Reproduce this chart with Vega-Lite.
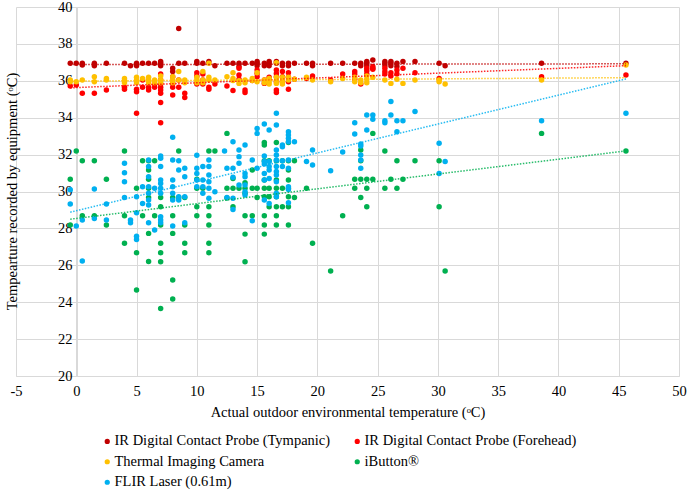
{
"$schema": "https://vega.github.io/schema/vega-lite/v6.json",
"autosize": {"type": "none"},
"width": 663,
"height": 369,
"padding": {"left": 16, "top": 7, "right": 9, "bottom": 115},
"config": {"font": "Liberation Serif", "view": {"stroke": null}, "axis": {"labelOverlap": false, "labelSeparation": 0}},
"datasets": {
"trend": [
{"s":"T","x":-0.5,"y":36.88},{"s":"T","x":45.6,"y":36.92},
{"s":"F","x":-0.5,"y":35.62},{"s":"F","x":45.6,"y":36.82},
{"s":"C","x":-0.5,"y":35.98},{"s":"C","x":45.6,"y":36.17},
{"s":"B","x":-0.5,"y":28.5},{"s":"B","x":45.6,"y":32.2},
{"s":"L","x":-0.5,"y":28.88},{"s":"L","x":45.6,"y":36.1}
],
"pts": [
{"s":"T","x":-0.5,"y":36.95},{"s":"T","x":0,"y":36.95},{"s":"T","x":0.5,"y":36.95},{"s":"T","x":0.5,"y":36.86},{"s":"T","x":1.5,"y":36.95},{"s":"T","x":1.5,"y":36.82},{"s":"T","x":2.5,"y":36.95},{"s":"T","x":4,"y":36.95},{"s":"T","x":4.5,"y":36.82},{"s":"T","x":5,"y":36.95},{"s":"T","x":5,"y":36.82},{"s":"T","x":5.5,"y":36.95},{"s":"T","x":6,"y":36.95},{"s":"T","x":6.5,"y":36.95},{"s":"T","x":7,"y":37.04},{"s":"T","x":7,"y":36.95},{"s":"T","x":7,"y":36.82},{"s":"T","x":8,"y":36.68},{"s":"T","x":8,"y":36.5},{"s":"T","x":8.5,"y":36.95},{"s":"T","x":8.5,"y":38.84},{"s":"T","x":9,"y":36.95},{"s":"T","x":10,"y":37.04},{"s":"T","x":10,"y":36.95},{"s":"T","x":10.5,"y":36.95},{"s":"T","x":11,"y":37.04},{"s":"T","x":11.5,"y":36.82},{"s":"T","x":12.5,"y":36.95},{"s":"T","x":13,"y":36.95},{"s":"T","x":13.5,"y":36.95},{"s":"T","x":13.5,"y":36.77},{"s":"T","x":14,"y":36.95},{"s":"T","x":14.6,"y":36.95},{"s":"T","x":15,"y":37.04},{"s":"T","x":15,"y":36.95},{"s":"T","x":15,"y":36.82},{"s":"T","x":15.6,"y":36.95},{"s":"T","x":15.6,"y":36.82},{"s":"T","x":16,"y":37.04},{"s":"T","x":16,"y":36.95},{"s":"T","x":16,"y":36.82},{"s":"T","x":16.6,"y":37.04},{"s":"T","x":16.6,"y":36.95},{"s":"T","x":17.1,"y":36.95},{"s":"T","x":17.1,"y":36.82},{"s":"T","x":17.6,"y":36.95},{"s":"T","x":17.6,"y":36.82},{"s":"T","x":18.1,"y":36.95},{"s":"T","x":19.1,"y":36.95},{"s":"T","x":19.6,"y":36.95},{"s":"T","x":19.6,"y":36.82},{"s":"T","x":21.1,"y":36.95},{"s":"T","x":22.1,"y":36.95},{"s":"T","x":23.1,"y":36.95},{"s":"T","x":23.6,"y":36.95},{"s":"T","x":23.6,"y":36.82},{"s":"T","x":24.1,"y":37.04},{"s":"T","x":24.1,"y":36.95},{"s":"T","x":24.1,"y":36.82},{"s":"T","x":24.6,"y":37.13},{"s":"T","x":24.6,"y":36.68},{"s":"T","x":25.6,"y":37.04},{"s":"T","x":25.6,"y":36.95},{"s":"T","x":25.6,"y":36.82},{"s":"T","x":26.1,"y":37.04},{"s":"T","x":26.1,"y":36.95},{"s":"T","x":26.1,"y":36.82},{"s":"T","x":26.6,"y":36.95},{"s":"T","x":26.6,"y":36.77},{"s":"T","x":27.1,"y":37.04},{"s":"T","x":28.1,"y":37.04},{"s":"T","x":30.1,"y":36.95},{"s":"T","x":30.6,"y":36.82},{"s":"T","x":38.6,"y":36.95},{"s":"T","x":45.6,"y":36.95},
{"s":"F","x":-0.5,"y":35.72},{"s":"F","x":0,"y":35.77},{"s":"F","x":0.5,"y":35.32},{"s":"F","x":1.5,"y":35.32},{"s":"F","x":2.5,"y":35.5},{"s":"F","x":4,"y":35.65},{"s":"F","x":4,"y":35.54},{"s":"F","x":5,"y":35.54},{"s":"F","x":5,"y":35.41},{"s":"F","x":5,"y":34.24},{"s":"F","x":5.5,"y":36.04},{"s":"F","x":5.5,"y":35.65},{"s":"F","x":6,"y":35.65},{"s":"F","x":6,"y":35.5},{"s":"F","x":6.5,"y":35.83},{"s":"F","x":6.5,"y":35.65},{"s":"F","x":7,"y":36.37},{"s":"F","x":7,"y":36.04},{"s":"F","x":7,"y":35.83},{"s":"F","x":7,"y":35.65},{"s":"F","x":7,"y":35.5},{"s":"F","x":7,"y":35.32},{"s":"F","x":7,"y":34.83},{"s":"F","x":7,"y":33.73},{"s":"F","x":8,"y":36.22},{"s":"F","x":8,"y":35.86},{"s":"F","x":8,"y":35.65},{"s":"F","x":8,"y":35.23},{"s":"F","x":8.5,"y":36.04},{"s":"F","x":8.5,"y":35.65},{"s":"F","x":9,"y":35.32},{"s":"F","x":9,"y":35.1},{"s":"F","x":10,"y":36.44},{"s":"F","x":10,"y":36.26},{"s":"F","x":10,"y":35.83},{"s":"F","x":10.5,"y":36.37},{"s":"F","x":10.5,"y":36.04},{"s":"F","x":10.5,"y":35.83},{"s":"F","x":11,"y":35.65},{"s":"F","x":11,"y":35.54},{"s":"F","x":11.5,"y":35.83},{"s":"F","x":12.5,"y":35.72},{"s":"F","x":13,"y":35.47},{"s":"F","x":13.5,"y":36.68},{"s":"F","x":13.5,"y":36.31},{"s":"F","x":13.5,"y":36.08},{"s":"F","x":14,"y":35.5},{"s":"F","x":14,"y":35.36},{"s":"F","x":14.6,"y":36.01},{"s":"F","x":15,"y":36.59},{"s":"F","x":15,"y":36.4},{"s":"F","x":15,"y":36.22},{"s":"F","x":15.6,"y":36.04},{"s":"F","x":15.6,"y":35.86},{"s":"F","x":16,"y":36.19},{"s":"F","x":16.6,"y":36.59},{"s":"F","x":16.6,"y":36.4},{"s":"F","x":16.6,"y":36.22},{"s":"F","x":16.6,"y":35.95},{"s":"F","x":16.6,"y":35.5},{"s":"F","x":16.6,"y":35.36},{"s":"F","x":17.1,"y":36.5},{"s":"F","x":17.1,"y":36.22},{"s":"F","x":17.1,"y":35.95},{"s":"F","x":17.6,"y":36.44},{"s":"F","x":17.6,"y":36.19},{"s":"F","x":17.6,"y":35.95},{"s":"F","x":17.6,"y":35.54},{"s":"F","x":18.1,"y":36.08},{"s":"F","x":19.1,"y":36.13},{"s":"F","x":19.6,"y":36.26},{"s":"F","x":19.6,"y":36.13},{"s":"F","x":21.1,"y":36.04},{"s":"F","x":22.1,"y":36.37},{"s":"F","x":23.1,"y":36.5},{"s":"F","x":23.1,"y":36.37},{"s":"F","x":23.1,"y":36.08},{"s":"F","x":23.6,"y":35.83},{"s":"F","x":24.1,"y":36.68},{"s":"F","x":24.1,"y":36.55},{"s":"F","x":24.1,"y":36.37},{"s":"F","x":24.6,"y":36.77},{"s":"F","x":24.6,"y":36.62},{"s":"F","x":25.6,"y":36.68},{"s":"F","x":25.6,"y":36.5},{"s":"F","x":25.6,"y":36.37},{"s":"F","x":26.1,"y":36.44},{"s":"F","x":26.1,"y":36.26},{"s":"F","x":26.6,"y":36.59},{"s":"F","x":26.6,"y":36.37},{"s":"F","x":27.1,"y":36.68},{"s":"F","x":28.1,"y":36.44},{"s":"F","x":30.1,"y":36.13},{"s":"F","x":38.6,"y":36.22},{"s":"F","x":45.6,"y":36.31},
{"s":"C","x":-0.5,"y":36.04},{"s":"C","x":-0.5,"y":35.95},{"s":"C","x":0,"y":35.95},{"s":"C","x":0.5,"y":36.04},{"s":"C","x":1.5,"y":36.22},{"s":"C","x":1.5,"y":35.95},{"s":"C","x":2.5,"y":36.13},{"s":"C","x":2.5,"y":36.04},{"s":"C","x":4,"y":36.13},{"s":"C","x":4,"y":36.01},{"s":"C","x":4,"y":35.9},{"s":"C","x":5,"y":36.19},{"s":"C","x":5,"y":36.04},{"s":"C","x":5,"y":35.9},{"s":"C","x":5.5,"y":36.13},{"s":"C","x":6,"y":36.19},{"s":"C","x":6,"y":36.04},{"s":"C","x":6,"y":35.9},{"s":"C","x":6.5,"y":36.04},{"s":"C","x":6.5,"y":35.9},{"s":"C","x":7,"y":36.26},{"s":"C","x":7,"y":36.04},{"s":"C","x":7,"y":35.9},{"s":"C","x":8,"y":36.22},{"s":"C","x":8,"y":36.04},{"s":"C","x":8,"y":35.9},{"s":"C","x":8.5,"y":36.5},{"s":"C","x":8.5,"y":36.04},{"s":"C","x":9,"y":36.04},{"s":"C","x":9,"y":35.9},{"s":"C","x":10,"y":36.19},{"s":"C","x":10,"y":36.04},{"s":"C","x":10,"y":35.9},{"s":"C","x":10.5,"y":36.5},{"s":"C","x":10.5,"y":36.04},{"s":"C","x":10.5,"y":35.9},{"s":"C","x":11,"y":36.95},{"s":"C","x":11,"y":36.19},{"s":"C","x":11,"y":36.04},{"s":"C","x":11.5,"y":36.04},{"s":"C","x":12.5,"y":36.22},{"s":"C","x":13,"y":36.44},{"s":"C","x":13,"y":36.13},{"s":"C","x":13,"y":36.01},{"s":"C","x":13.5,"y":36.01},{"s":"C","x":13.5,"y":35.86},{"s":"C","x":14,"y":36.04},{"s":"C","x":14,"y":35.9},{"s":"C","x":14.6,"y":36.13},{"s":"C","x":14.6,"y":36.01},{"s":"C","x":15,"y":36.44},{"s":"C","x":15,"y":35.95},{"s":"C","x":15.6,"y":36.04},{"s":"C","x":15.6,"y":35.9},{"s":"C","x":16,"y":36.13},{"s":"C","x":16,"y":35.95},{"s":"C","x":16,"y":35.83},{"s":"C","x":16.6,"y":36.98},{"s":"C","x":16.6,"y":36.19},{"s":"C","x":16.6,"y":36.01},{"s":"C","x":16.6,"y":35.86},{"s":"C","x":17.1,"y":36.19},{"s":"C","x":17.1,"y":35.95},{"s":"C","x":17.1,"y":35.83},{"s":"C","x":17.6,"y":36.19},{"s":"C","x":17.6,"y":36.04},{"s":"C","x":18.1,"y":36.08},{"s":"C","x":19.1,"y":36.19},{"s":"C","x":19.6,"y":36.04},{"s":"C","x":21.1,"y":35.95},{"s":"C","x":22.1,"y":36.13},{"s":"C","x":23.1,"y":36.19},{"s":"C","x":23.1,"y":35.95},{"s":"C","x":23.6,"y":36.04},{"s":"C","x":23.6,"y":35.9},{"s":"C","x":24.1,"y":36.26},{"s":"C","x":24.1,"y":36.08},{"s":"C","x":24.1,"y":35.9},{"s":"C","x":24.6,"y":36.19},{"s":"C","x":25.6,"y":36.04},{"s":"C","x":26.1,"y":35.86},{"s":"C","x":26.6,"y":36.08},{"s":"C","x":27.1,"y":35.86},{"s":"C","x":28.1,"y":36.04},{"s":"C","x":30.1,"y":36.04},{"s":"C","x":30.1,"y":35.95},{"s":"C","x":30.6,"y":35.83},{"s":"C","x":38.6,"y":36.04},{"s":"C","x":45.6,"y":36.86},
{"s":"B","x":-0.5,"y":30.66},{"s":"B","x":-0.5,"y":28.18},{"s":"B","x":0,"y":32.2},{"s":"B","x":0.5,"y":31.67},{"s":"B","x":0.5,"y":28.69},{"s":"B","x":1.5,"y":31.67},{"s":"B","x":1.5,"y":28.69},{"s":"B","x":2.5,"y":30.66},{"s":"B","x":2.5,"y":28.18},{"s":"B","x":4,"y":32.2},{"s":"B","x":4,"y":28.69},{"s":"B","x":4,"y":27.19},{"s":"B","x":5,"y":30.17},{"s":"B","x":5,"y":26.68},{"s":"B","x":5,"y":24.66},{"s":"B","x":5.5,"y":31.67},{"s":"B","x":5.5,"y":28.69},{"s":"B","x":6,"y":31.67},{"s":"B","x":6,"y":31.17},{"s":"B","x":6,"y":30.66},{"s":"B","x":6,"y":30.17},{"s":"B","x":6,"y":29.68},{"s":"B","x":6,"y":27.73},{"s":"B","x":6,"y":26.2},{"s":"B","x":6.5,"y":31.67},{"s":"B","x":6.5,"y":28.69},{"s":"B","x":7,"y":29.68},{"s":"B","x":7,"y":29.17},{"s":"B","x":7,"y":28.18},{"s":"B","x":7,"y":27.19},{"s":"B","x":7,"y":26.68},{"s":"B","x":7,"y":26.19},{"s":"B","x":7,"y":23.66},{"s":"B","x":8,"y":29.68},{"s":"B","x":8,"y":28.69},{"s":"B","x":8,"y":27.73},{"s":"B","x":8,"y":25.2},{"s":"B","x":8,"y":24.17},{"s":"B","x":8.5,"y":32.2},{"s":"B","x":8.5,"y":29.68},{"s":"B","x":9,"y":29.68},{"s":"B","x":9,"y":28.18},{"s":"B","x":9,"y":27.19},{"s":"B","x":9,"y":26.68},{"s":"B","x":10,"y":30.66},{"s":"B","x":10,"y":30.17},{"s":"B","x":10,"y":29.17},{"s":"B","x":10,"y":28.69},{"s":"B","x":10.5,"y":30.17},{"s":"B","x":11,"y":32.2},{"s":"B","x":11,"y":29.17},{"s":"B","x":11,"y":28.69},{"s":"B","x":11,"y":28.18},{"s":"B","x":11,"y":27.19},{"s":"B","x":11,"y":26.68},{"s":"B","x":11.5,"y":32.2},{"s":"B","x":12.5,"y":33.15},{"s":"B","x":12.5,"y":30.17},{"s":"B","x":12.5,"y":29.65},{"s":"B","x":13,"y":30.71},{"s":"B","x":13,"y":30.17},{"s":"B","x":13,"y":29.17},{"s":"B","x":13.5,"y":30.17},{"s":"B","x":14,"y":30.48},{"s":"B","x":14,"y":30.17},{"s":"B","x":14,"y":29.9},{"s":"B","x":14,"y":28.69},{"s":"B","x":14,"y":27.69},{"s":"B","x":14,"y":26.19},{"s":"B","x":14.6,"y":31.17},{"s":"B","x":14.6,"y":30.17},{"s":"B","x":14.6,"y":28.69},{"s":"B","x":15,"y":30.17},{"s":"B","x":15,"y":29.68},{"s":"B","x":15.6,"y":32.65},{"s":"B","x":15.6,"y":32.52},{"s":"B","x":15.6,"y":31.67},{"s":"B","x":15.6,"y":30.62},{"s":"B","x":15.6,"y":30.17},{"s":"B","x":15.6,"y":29.72},{"s":"B","x":15.6,"y":28.69},{"s":"B","x":15.6,"y":28.18},{"s":"B","x":15.6,"y":27.69},{"s":"B","x":16,"y":31.67},{"s":"B","x":16,"y":30.17},{"s":"B","x":16,"y":29.72},{"s":"B","x":16,"y":29.17},{"s":"B","x":16.6,"y":32.65},{"s":"B","x":16.6,"y":31.67},{"s":"B","x":16.6,"y":30.62},{"s":"B","x":16.6,"y":30.17},{"s":"B","x":16.6,"y":29.72},{"s":"B","x":16.6,"y":29.17},{"s":"B","x":16.6,"y":28.69},{"s":"B","x":16.6,"y":28.18},{"s":"B","x":17.1,"y":31.67},{"s":"B","x":17.1,"y":30.17},{"s":"B","x":17.1,"y":29.17},{"s":"B","x":17.6,"y":32.65},{"s":"B","x":17.6,"y":31.67},{"s":"B","x":17.6,"y":31.17},{"s":"B","x":17.6,"y":30.62},{"s":"B","x":17.6,"y":30.17},{"s":"B","x":17.6,"y":29.72},{"s":"B","x":17.6,"y":29.17},{"s":"B","x":17.6,"y":28.18},{"s":"B","x":18.1,"y":31.67},{"s":"B","x":18.1,"y":29.68},{"s":"B","x":19.1,"y":30.17},{"s":"B","x":19.6,"y":27.19},{"s":"B","x":21.1,"y":25.69},{"s":"B","x":22.1,"y":28.69},{"s":"B","x":23.1,"y":30.66},{"s":"B","x":23.1,"y":30.17},{"s":"B","x":23.6,"y":32.25},{"s":"B","x":23.6,"y":31.67},{"s":"B","x":23.6,"y":30.66},{"s":"B","x":23.6,"y":29.68},{"s":"B","x":24.1,"y":30.66},{"s":"B","x":24.1,"y":30.17},{"s":"B","x":24.1,"y":29.17},{"s":"B","x":24.6,"y":33.15},{"s":"B","x":24.6,"y":30.66},{"s":"B","x":25.6,"y":32.2},{"s":"B","x":25.6,"y":30.17},{"s":"B","x":26.1,"y":30.66},{"s":"B","x":26.6,"y":31.67},{"s":"B","x":26.6,"y":30.17},{"s":"B","x":27.1,"y":30.66},{"s":"B","x":28.1,"y":31.67},{"s":"B","x":30.1,"y":31.67},{"s":"B","x":30.1,"y":29.17},{"s":"B","x":30.6,"y":25.69},{"s":"B","x":38.6,"y":33.15},{"s":"B","x":45.6,"y":32.2},
{"s":"L","x":-0.5,"y":30.1},{"s":"L","x":-0.5,"y":29.32},{"s":"L","x":0,"y":28.13},{"s":"L","x":0.5,"y":28.45},{"s":"L","x":0.5,"y":26.23},{"s":"L","x":1.5,"y":30.14},{"s":"L","x":1.5,"y":28.54},{"s":"L","x":2.5,"y":29.32},{"s":"L","x":2.5,"y":28.45},{"s":"L","x":4,"y":31.53},{"s":"L","x":4,"y":31.02},{"s":"L","x":4,"y":30.53},{"s":"L","x":4,"y":29.68},{"s":"L","x":4.5,"y":28.45},{"s":"L","x":4.5,"y":28.31},{"s":"L","x":5,"y":29.72},{"s":"L","x":5,"y":28.85},{"s":"L","x":5,"y":27.58},{"s":"L","x":5,"y":27.4},{"s":"L","x":5.5,"y":30.26},{"s":"L","x":5.5,"y":29.35},{"s":"L","x":6,"y":31.71},{"s":"L","x":6,"y":31.35},{"s":"L","x":6,"y":30.8},{"s":"L","x":6,"y":30.26},{"s":"L","x":6,"y":29.9},{"s":"L","x":6,"y":29.54},{"s":"L","x":6,"y":29.27},{"s":"L","x":6,"y":28.31},{"s":"L","x":6.5,"y":30.17},{"s":"L","x":6.5,"y":27.91},{"s":"L","x":7,"y":31.92},{"s":"L","x":7,"y":31.8},{"s":"L","x":7,"y":31.35},{"s":"L","x":7,"y":30.62},{"s":"L","x":7,"y":30.44},{"s":"L","x":7,"y":30.17},{"s":"L","x":7,"y":29.9},{"s":"L","x":7,"y":28.63},{"s":"L","x":7,"y":28.45},{"s":"L","x":7,"y":28.31},{"s":"L","x":8,"y":32.94},{"s":"L","x":8,"y":31.71},{"s":"L","x":8,"y":30.62},{"s":"L","x":8,"y":30.26},{"s":"L","x":8,"y":29.9},{"s":"L","x":8,"y":29.54},{"s":"L","x":8,"y":28.13},{"s":"L","x":8.5,"y":31.67},{"s":"L","x":8.5,"y":31.17},{"s":"L","x":8.5,"y":29.72},{"s":"L","x":8.5,"y":29.54},{"s":"L","x":9,"y":31.26},{"s":"L","x":9,"y":30.8},{"s":"L","x":9,"y":29.72},{"s":"L","x":9,"y":28.31},{"s":"L","x":10,"y":31.96},{"s":"L","x":10,"y":31.26},{"s":"L","x":10,"y":30.98},{"s":"L","x":10,"y":30.62},{"s":"L","x":10,"y":30.26},{"s":"L","x":10.5,"y":31.35},{"s":"L","x":10.5,"y":30.62},{"s":"L","x":10.5,"y":30.26},{"s":"L","x":10.5,"y":29.9},{"s":"L","x":11,"y":31.71},{"s":"L","x":11,"y":31.35},{"s":"L","x":11,"y":30.89},{"s":"L","x":11,"y":30.53},{"s":"L","x":11,"y":30.17},{"s":"L","x":11,"y":29.63},{"s":"L","x":11.5,"y":29.99},{"s":"L","x":12.3,"y":32.2},{"s":"L","x":12.5,"y":31.26},{"s":"L","x":12.5,"y":29.68},{"s":"L","x":13,"y":32.7},{"s":"L","x":13,"y":31.26},{"s":"L","x":13,"y":30.77},{"s":"L","x":13,"y":29.63},{"s":"L","x":13,"y":29.03},{"s":"L","x":13.5,"y":32.25},{"s":"L","x":13.5,"y":31.89},{"s":"L","x":13.5,"y":31.53},{"s":"L","x":13.5,"y":30.35},{"s":"L","x":14,"y":32.52},{"s":"L","x":14,"y":30.98},{"s":"L","x":14,"y":30.8},{"s":"L","x":14,"y":30.35},{"s":"L","x":14,"y":29.99},{"s":"L","x":14,"y":29.81},{"s":"L","x":14.6,"y":31.71},{"s":"L","x":14.6,"y":28.42},{"s":"L","x":15,"y":33.42},{"s":"L","x":15,"y":33.15},{"s":"L","x":15,"y":31.26},{"s":"L","x":15.6,"y":33.66},{"s":"L","x":15.6,"y":31.92},{"s":"L","x":15.6,"y":31.62},{"s":"L","x":15.6,"y":31.49},{"s":"L","x":15.6,"y":30.98},{"s":"L","x":15.6,"y":30.62},{"s":"L","x":15.6,"y":29.54},{"s":"L","x":16,"y":33.33},{"s":"L","x":16,"y":31.62},{"s":"L","x":16,"y":31.35},{"s":"L","x":16,"y":31.17},{"s":"L","x":16,"y":30.71},{"s":"L","x":16,"y":29.35},{"s":"L","x":16.6,"y":34.24},{"s":"L","x":16.6,"y":33.6},{"s":"L","x":16.6,"y":32.25},{"s":"L","x":16.6,"y":31.98},{"s":"L","x":16.6,"y":31.71},{"s":"L","x":16.6,"y":31.35},{"s":"L","x":16.6,"y":31.08},{"s":"L","x":16.6,"y":30.89},{"s":"L","x":16.6,"y":30.53},{"s":"L","x":16.6,"y":29.9},{"s":"L","x":16.6,"y":29.72},{"s":"L","x":17.1,"y":32.52},{"s":"L","x":17.1,"y":32.43},{"s":"L","x":17.1,"y":31.67},{"s":"L","x":17.1,"y":31.35},{"s":"L","x":17.6,"y":33.24},{"s":"L","x":17.6,"y":33.06},{"s":"L","x":17.6,"y":32.88},{"s":"L","x":17.6,"y":32.7},{"s":"L","x":17.6,"y":31.71},{"s":"L","x":17.6,"y":31.26},{"s":"L","x":17.6,"y":30.26},{"s":"L","x":17.6,"y":30.11},{"s":"L","x":17.6,"y":29.39},{"s":"L","x":18.1,"y":32.7},{"s":"L","x":19.1,"y":31.62},{"s":"L","x":19.6,"y":32.25},{"s":"L","x":19.6,"y":31.44},{"s":"L","x":21.1,"y":31.13},{"s":"L","x":22.1,"y":32.14},{"s":"L","x":23.1,"y":33.73},{"s":"L","x":23.1,"y":33.12},{"s":"L","x":23.6,"y":32.57},{"s":"L","x":23.6,"y":32.47},{"s":"L","x":23.6,"y":31.98},{"s":"L","x":23.6,"y":31.71},{"s":"L","x":23.6,"y":31.26},{"s":"L","x":24.1,"y":34.15},{"s":"L","x":24.1,"y":33.33},{"s":"L","x":24.6,"y":34.15},{"s":"L","x":24.6,"y":33.91},{"s":"L","x":25.6,"y":33.84},{"s":"L","x":25.6,"y":33.73},{"s":"L","x":26.1,"y":34.88},{"s":"L","x":26.1,"y":34.15},{"s":"L","x":26.6,"y":33.84},{"s":"L","x":26.6,"y":33.24},{"s":"L","x":27.1,"y":33.84},{"s":"L","x":28.1,"y":34.33},{"s":"L","x":30.1,"y":32.61},{"s":"L","x":30.1,"y":30.98},{"s":"L","x":30.6,"y":31.62},{"s":"L","x":38.6,"y":33.83},{"s":"L","x":45.6,"y":34.24}
]
},
"layer": [
{
"data": {"name": "pts"},
"mark": {"type": "point", "filled": true, "size": 30, "opacity": 1, "shape": "circle"},
"encoding": {
"x": {"field": "x", "type": "quantitative",
"scale": {"domain": [-5, 50], "nice": false, "zero": false},
"axis": {"values": [-5,0,5,10,15,20,25,30,35,40,45,50], "labelExpr": "'' + datum.value", "labelOverlap": false, "grid": true, "gridColor": "#D9D9D9", "domainColor": "#D9D9D9", "ticks": false, "labelFontSize": 14.5, "labelColor": "#000000", "labelPadding": 8, "labelFlush": false, "title": "Actual outdoor environmental temperature (ᵒC)", "titleFontSize": 14.5, "titleFontWeight": "normal", "titleColor": "#000000", "titlePadding": 8}},
"y": {"field": "y", "type": "quantitative",
"scale": {"domain": [20, 40], "nice": false, "zero": false},
"axis": {"values": [20,22,24,26,28,30,32,34,36,38,40], "tickCount": 11, "labelOverlap": false, "labelSeparation": 0, "labelBound": false, "offset": -61, "grid": true, "gridColor": "#D9D9D9", "domainColor": "#D9D9D9", "ticks": false, "labelFontSize": 14.5, "labelColor": "#000000", "labelPadding": 5, "labelFlush": false, "title": "Tempearture recorded by equipment (ᵒC)", "titleFontSize": 14.5, "titleFontWeight": "normal", "titleColor": "#000000", "titleX": -65, "titleY": 184, "titleAngle": -90, "titleBaseline": "middle", "titleAlign": "center"}},
"color": {"field": "s", "type": "nominal",
"scale": {"domain": ["T","F","C","B","L"], "range": ["#C00000","#FF0000","#FFC000","#00B050","#00B0F0"]},
"legend": {"orient": "none", "legendX": 84, "legendY": 427, "direction": "horizontal", "columns": 2, "columnPadding": 19, "rowPadding": 5.5, "padding": 0, "title": null, "symbolType": "circle", "symbolSize": 14, "labelFontSize": 14.5, "labelColor": "#000000", "labelOffset": 0, "labelLimit": 0,
"labelExpr": "datum.label=='T'?'IR Digital Contact Probe (Tympanic)':datum.label=='F'?'IR Digital Contact Probe (Forehead)':datum.label=='C'?'Thermal Imaging Camera':datum.label=='B'?'iButton®':'FLIR Laser (0.61m)'"}}
}
},
{
"data": {"name": "trend"},
"mark": {"type": "line", "strokeDash": [1.5, 1.5], "strokeWidth": 1.5, "opacity": 0.85},
"encoding": {
"x": {"field": "x", "type": "quantitative"},
"y": {"field": "y", "type": "quantitative"},
"detail": {"field": "s", "type": "nominal"},
"stroke": {"field": "s", "type": "nominal", "scale": {"domain": ["T","F","C","B","L"], "range": ["#C00000","#FF0000","#FFC000","#00B050","#00B0F0"]}, "legend": null}
}
}
]
}
